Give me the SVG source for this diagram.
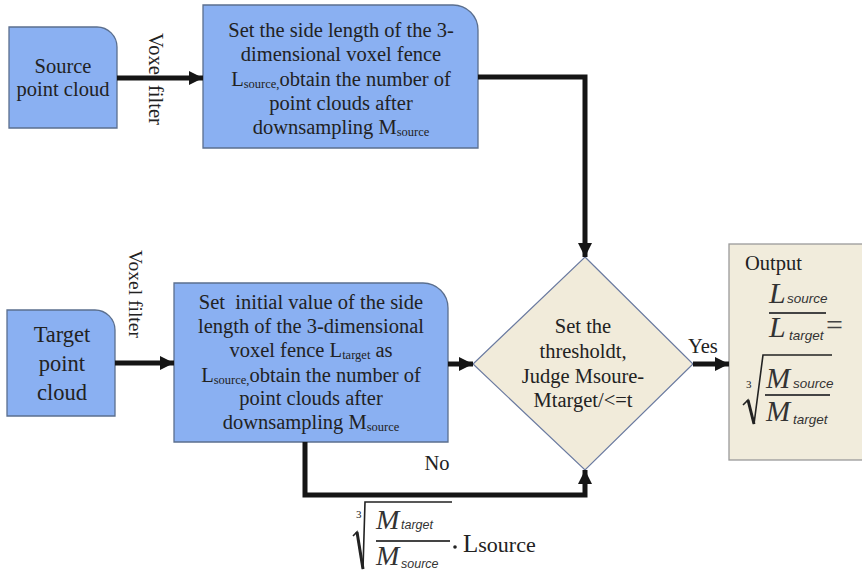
<svg xmlns="http://www.w3.org/2000/svg" width="862" height="571" viewBox="0 0 862 571">
<style>
.box{fill:#8ab0f2;stroke:#5b6f8e;stroke-width:1.3}
.dia{fill:#f1ebda;stroke:#6a7aa0;stroke-width:1.2}
.out{fill:#f1ecdc;stroke:#9a9a9a;stroke-width:1.3}
.t{font-family:"Liberation Serif","Times New Roman",serif;font-size:20.5px;fill:#222}
.c{text-anchor:middle}
.sub{font-size:12.5px}
.mi{font-family:"Liberation Serif","Times New Roman",serif;font-style:italic;fill:#333}
.ms{font-family:"Liberation Sans",Arial,sans-serif;font-style:italic;fill:#333}
.conn{fill:none;stroke:#151515;stroke-width:5}
</style>
<defs>
<marker id="ah" markerUnits="userSpaceOnUse" markerWidth="16" markerHeight="16" refX="14" refY="7" orient="auto">
<path d="M0,0 L14,7 L0,14 Z" fill="#151515"/>
</marker>
</defs>

<g id="source">
<path class="box" d="M9,27 H97 A20,20 0 0 1 117,47 V128 H9 Z"/>
<text class="t c" x="63" y="73">Source</text>
<text class="t c" x="63" y="96">point cloud</text>
</g>

<g id="set-source">
<path class="box" d="M203,5 H453 A25,25 0 0 1 478,30 V148 H203 Z"/>
<text class="t c" x="341" y="37">Set the side length of the 3-</text>
<text class="t c" x="341" y="61">dimensional voxel fence</text>
<text class="t c" x="341" y="86">L<tspan class="sub" dy="2">source,</tspan><tspan dy="-2">obtain the number of</tspan></text>
<text class="t c" x="341" y="110">point clouds after</text>
<text class="t c" x="341" y="134">downsampling M<tspan class="sub" dy="2">source</tspan></text>
</g>

<g id="target">
<path class="box" d="M7,310 H95 A20,20 0 0 1 115,330 V416 H7 Z"/>
<text class="t c" x="62" y="342" style="font-size:22.5px">Target</text>
<text class="t c" x="62" y="371" style="font-size:22.5px">point</text>
<text class="t c" x="62" y="400" style="font-size:22.5px">cloud</text>
</g>

<g id="set-target">
<path class="box" d="M174,283 H423 A25,25 0 0 1 448,308 V442 H174 Z"/>
<text class="t c" x="311" y="309" xml:space="preserve">Set  initial value of the side</text>
<text class="t c" x="311" y="333">length of the 3-dimensional</text>
<text class="t c" x="311" y="357">voxel fence L<tspan class="sub" dy="2">target</tspan><tspan dy="-2"> as</tspan></text>
<text class="t c" x="311" y="382">L<tspan class="sub" dy="2">source,</tspan><tspan dy="-2">obtain the number of</tspan></text>
<text class="t c" x="311" y="405">point clouds after</text>
<text class="t c" x="311" y="429">downsampling M<tspan class="sub" dy="2">source</tspan></text>
</g>

<g id="decision">
<polygon class="dia" points="585,257 693,364 585,470 473,364"/>
<text class="t c" x="583" y="333">Set the</text>
<text class="t c" x="583" y="358">thresholdt,</text>
<text class="t c" x="583" y="383">Judge Msoure-</text>
<text class="t c" x="583" y="407">Mtarget/&lt;=t</text>
</g>

<g id="output">
<rect class="out" x="729" y="244" width="140" height="216"/>
<text class="t" x="745" y="270">Output</text>
<text class="mi" x="769" y="303" font-size="30">L</text>
<text class="ms" x="787" y="303" font-size="13.5">source</text>
<line x1="769" y1="313" x2="826" y2="313" stroke="#444" stroke-width="2"/>
<text class="mi" x="769" y="337" font-size="30">L</text>
<text class="ms" x="789" y="340" font-size="13.5">target</text>
<text class="t" x="826" y="335" style="font-size:30px;fill:#444">=</text>
<text class="t" x="746" y="388" style="font-size:11px">3</text>
<path d="M743,405 L748,400 L754,424 L763,355 L832,355" fill="none" stroke="#222" stroke-width="1.6"/>
<path d="M748,400 L754,424" stroke="#222" stroke-width="3"/>
<text class="mi" x="766" y="388" font-size="29">M</text>
<text class="ms" x="793" y="388" font-size="13.5">source</text>
<line x1="765" y1="395" x2="830" y2="395" stroke="#444" stroke-width="2"/>
<text class="mi" x="766" y="421" font-size="29">M</text>
<text class="ms" x="793" y="424" font-size="13.5">target</text>
</g>

<g id="connectors">
<path class="conn" d="M117,78 H203" marker-end="url(#ah)"/>
<path class="conn" d="M478,77 H585 V257" marker-end="url(#ah)"/>
<path class="conn" d="M115,363 H174" marker-end="url(#ah)"/>
<path class="conn" d="M448,364 H473" marker-end="url(#ah)"/>
<path class="conn" d="M693,364 H729" marker-end="url(#ah)"/>
<path class="conn" d="M305,442 V495 H585 V470" marker-end="url(#ah)"/>
</g>

<g id="labels">
<text class="t" transform="translate(149,33) rotate(90)">Voxe</text>
<text class="t" transform="translate(149,85) rotate(90)">filter</text>
<text class="t" transform="translate(129,250) rotate(90)" style="font-size:19.5px">Voxel filter</text>
<text class="t" x="688" y="353">Yes</text>
<text class="t c" x="437" y="470">No</text>
<text class="t" x="356" y="518" style="font-size:11px">3</text>
<path d="M353,536 L357,532 L363,569 L365,502 L452,502" fill="none" stroke="#222" stroke-width="1.6"/>
<path d="M357,532 L363,569" stroke="#222" stroke-width="3"/>
<text class="mi" x="376" y="529" font-size="28">M</text>
<text class="ms" x="401" y="529" font-size="12.5">target</text>
<line x1="376" y1="541" x2="450" y2="541" stroke="#444" stroke-width="2"/>
<text class="mi" x="376" y="565" font-size="28">M</text>
<text class="ms" x="401" y="568" font-size="12.5">source</text>
<circle cx="455" cy="547" r="1.8" fill="#222"/>
<text class="t" x="463" y="552" style="font-size:25px">L<tspan style="font-size:22px">source</tspan></text>
</g>
</svg>
